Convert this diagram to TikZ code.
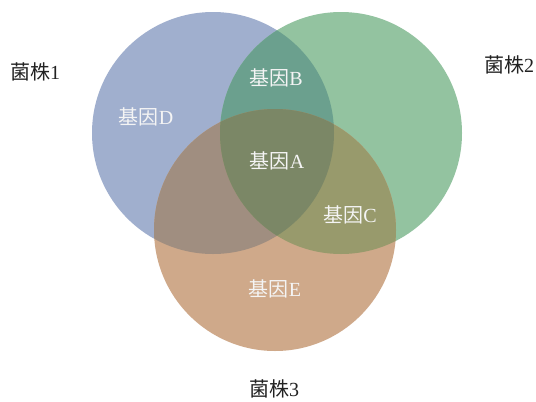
\documentclass[tikz,border=0pt]{standalone}
\usepackage{fontspec}
\setmainfont{Liberation Serif}
\newfontfamily\cjk{Noto Sans CJK SC}
\definecolor{blueOnly}{HTML}{A0AFCE}
\definecolor{greenOnly}{HTML}{93C3A0}
\definecolor{orangeOnly}{HTML}{CFA98A}
\definecolor{blueGreen}{HTML}{6BA08E}
\definecolor{blueOrange}{HTML}{A08E80}
\definecolor{greenOrange}{HTML}{989A6C}
\definecolor{allThree}{HTML}{7B8766}
\definecolor{inText}{HTML}{F4F4F4}
\definecolor{outText}{HTML}{222222}
\tikzset{
  inlabel/.style={text=inText, font=\fontsize{20}{22}\selectfont, inner sep=0pt},
  outlabel/.style={text=outText, font=\fontsize{20}{22}\selectfont, inner sep=0pt}
}
\newcommand{\blueC}{(213,133) circle[radius=121]}
\newcommand{\greenC}{(341,133) circle[radius=121]}
\newcommand{\orangeC}{(275,230) circle[radius=121]}
\begin{document}
\begin{tikzpicture}[x=1pt,y=-1pt]
\useasboundingbox (0,0) rectangle (536,402);
\fill[white] (0,0) rectangle (536,402);
% single circles
\fill[blueOnly] \blueC;
\fill[greenOnly] \greenC;
\fill[orangeOnly] \orangeC;
% pairwise overlaps
\begin{scope}
  \clip \blueC;
  \fill[blueGreen] \greenC;
  \fill[blueOrange] \orangeC;
\end{scope}
\begin{scope}
  \clip \greenC;
  \fill[greenOrange] \orangeC;
\end{scope}
% triple overlap
\begin{scope}
  \clip \blueC;
  \clip \greenC;
  \fill[allThree] \orangeC;
\end{scope}
% labels
\node[outlabel] (s1) at (35,72) {{\cjk 菌株}1};
\node[outlabel] (s2) at (509,65) {{\cjk 菌株}2};
\node[outlabel] (s3) at (274,389) {{\cjk 菌株}3};
\node[inlabel] (gD) at (146,117) {{\cjk 基因}D};
\node[inlabel] (gB) at (276,78) {{\cjk 基因}B};
\node[inlabel] (gA) at (277,161) {{\cjk 基因}A};
\node[inlabel] (gC) at (350,215) {{\cjk 基因}C};
\node[inlabel] (gE) at (275,289) {{\cjk 基因}E};
\end{tikzpicture}
\end{document}
